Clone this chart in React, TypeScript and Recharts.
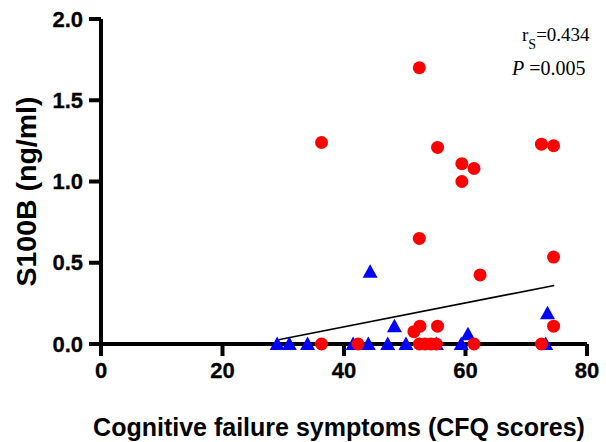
import React from 'react';
import { ScatterChart, Scatter, XAxis, YAxis, ReferenceLine } from 'recharts';

// CFQ scores (x) and S100B (ng/ml) (y) for the two groups
const redCFQ = [36.3, 36.3, 42.3, 51.5, 52.4, 52.4, 52.5, 52.4, 53.3, 54.3, 55.2, 55.4, 55.4, 59.4, 59.4, 61.4, 61.4, 62.4, 72.5, 72.5, 74.5, 74.5, 74.5];
const redS100B = [1.24, 0.0, 0.0, 0.076, 1.70, 0.65, 0.11, 0.0, 0.0, 0.0, 0.0, 1.21, 0.11, 1.11, 1.00, 1.08, 0.0, 0.425, 1.23, 0.0, 1.22, 0.535, 0.11];

const blueCFQ = [29.0, 31.0, 34.0, 41.5, 44.0, 44.3, 47.2, 48.3, 50.2, 55.2, 59.3, 60.4, 73.2, 73.5];
const blueS100B = [0.0, 0.0, 0.0, 0.0, 0.0, 0.445, 0.0, 0.11, 0.0, 0.0, 0.0, 0.06, 0.0, 0.19];

const fitStart = { x: 29.0, y: 0.025 };
const fitEnd = { x: 74.6, y: 0.36 };

const xTicks = [0, 20, 40, 60, 80];
const yTicks = [0, 0.5, 1.0, 1.5, 2.0];

const redData = redCFQ.map((x, i) => ({ x, y: redS100B[i] }));
const blueData = blueCFQ.map((x, i) => ({ x, y: blueS100B[i] }));

const SANS = '"Liberation Sans", Arial, sans-serif';
const SERIF = '"Liberation Serif", "Times New Roman", serif';

const RedCircle = (props: any) => {
  const { cx, cy } = props;
  if (cx == null || cy == null) return null;
  return <circle cx={cx} cy={cy} r={6.5} fill="#FF0000" />;
};

const BlueTriangle = (props: any) => {
  const { cx, cy } = props;
  if (cx == null || cy == null) return null;
  const pts = `${cx},${cy - 7.5} ${cx + 7.5},${cy + 6} ${cx - 7.5},${cy + 6}`;
  return <polygon points={pts} fill="#0000FF" />;
};

const AxisTick = (props: any) => {
  const { x, y, payload, textAnchor, orientation } = props;
  const label = orientation === 'left' ? Number(payload.value).toFixed(1) : String(payload.value);
  return (
    <text
      x={x}
      y={y}
      textAnchor={textAnchor}
      dy={orientation === 'left' ? 7.5 : 15}
      fontFamily={SANS}
      fontWeight="bold"
      fontSize={22}
      fill="#000"
      stroke="#000"
      strokeWidth={0.3}
    >
      {label}
    </text>
  );
};

const lineStyle = { stroke: '#000', strokeWidth: 4 };

export default function App() {
  return (
    <div style={{ position: 'absolute', left: 0, top: 0, width: 606, height: 442, background: '#fff' }}>
      <ScatterChart width={606} height={442} margin={{ top: 19, right: 19, bottom: 0, left: 0 }}>
        <XAxis
          type="number"
          dataKey="x"
          domain={[0, 80]}
          ticks={xTicks}
          interval={0}
          height={98}
          tickSize={12}
          tickMargin={7}
          stroke="#000"
          axisLine={lineStyle}
          tickLine={lineStyle}
          tick={<AxisTick />}
          label={{
            content: () => (
              <text x={339} y={436} textAnchor="middle" fontFamily={SANS} fontWeight="bold" fontSize={25} fill="#000">
                Cognitive failure symptoms (CFQ scores)
              </text>
            ),
          }}
        />
        <YAxis
          type="number"
          dataKey="y"
          domain={[0, 2]}
          ticks={yTicks}
          interval={0}
          width={101}
          tickSize={12}
          tickMargin={6}
          stroke="#000"
          axisLine={lineStyle}
          tickLine={lineStyle}
          tick={<AxisTick />}
          label={{
            content: () => (
              <text
                x={36}
                y={191.5}
                transform="rotate(-90 36 191.5)"
                textAnchor="middle"
                fontFamily={SANS}
                fontWeight="bold"
                fontSize={28.5}
                fill="#000"
              >
                S100B (ng/ml)
              </text>
            ),
          }}
        />
        <ReferenceLine
          segment={[fitStart, fitEnd]}
          stroke="#000"
          strokeWidth={1.6}
          ifOverflow="visible"
        />
        <Scatter data={blueData} shape={<BlueTriangle />} isAnimationActive={false} />
        <Scatter data={redData} shape={<RedCircle />} isAnimationActive={false} />
      </ScatterChart>
      <svg width={606} height={442} style={{ position: 'absolute', left: 0, top: 0, pointerEvents: 'none' }}>
        <text x={522} y={41} fontFamily={SERIF} fontSize={19} fill="#000">
          <tspan>r</tspan>
          <tspan fontSize={14} dy={8}>S</tspan>
          <tspan dy={-8}>=0.434</tspan>
        </text>
        <text x={512} y={75} fontFamily={SERIF} fontSize={20} fill="#000">
          <tspan fontStyle="italic">P</tspan>
          <tspan> =0.005</tspan>
        </text>
      </svg>
    </div>
  );
}
